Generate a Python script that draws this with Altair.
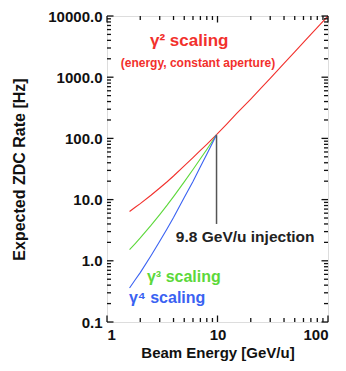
import altair as alt
import pandas as pd

# Beam energy [GeV/u] and expected ZDC rate [Hz]
energy_g2 = [1.6, 1.8, 2, 2.5, 3, 3.5, 4, 5, 6, 7, 8, 9.8, 12, 15, 20, 25, 30, 40, 50, 60, 70, 85, 100]
rate_g2 = [6.4, 7.5, 8.6, 11.8, 15.5, 19.6, 24.3, 35.5, 48.5, 63.5, 80, 115, 168, 258, 440, 675, 960, 1690, 2600, 3700, 5000, 7300, 10000]
energy_g3 = [1.6, 1.8, 2, 2.5, 3, 3.5, 4, 5, 6, 7, 8, 9.8]
rate_g3 = [1.52, 1.91, 2.36, 3.78, 5.67, 8.1, 11.2, 19.5, 31, 46.5, 66, 115]
energy_g4 = [1.6, 1.8, 2, 2.5, 3, 3.5, 4, 5, 6, 7, 8, 9.8]
rate_g4 = [0.36, 0.49, 0.64, 1.21, 2.08, 3.35, 5.1, 10.8, 19.8, 34.3, 55, 115]

series_names = ["g2", "g3", "g4"]
series_colors = ["#f2302c", "#5cd83a", "#3a62f2"]

injection_energy = [9.8]
injection_low = [4.0]
injection_high = [113]

x_major = [1, 10, 100]
x_minor = [2, 3, 4, 5, 6, 7, 8, 9, 20, 30, 40, 50, 60, 70, 80, 90]
y_major = [0.1, 1, 10, 100, 1000, 10000]
y_minor = [m * d for d in [0.1, 1, 10, 100, 1000] for m in [2, 3, 4, 5, 6, 7, 8, 9]]

ann_text = ["γ² scaling", "(energy, constant aperture)", "9.8 GeV/u injection", "γ³ scaling", "γ⁴ scaling"]
ann_x = [2.45, 6.66, 4.2, 2.3, 1.58]
ann_y = [3960, 1690, 2.42, 0.55, 0.243]
ann_color = ["#f2302c", "#f2302c", "#222222", "#5cd83a", "#3a62f2"]
ann_size = [17, 12, 15.5, 16, 16]
ann_align = ["left", "center", "left", "left", "left"]

rows = []
for name, xs, ys in [("g2", energy_g2, rate_g2), ("g3", energy_g3, rate_g3), ("g4", energy_g4, rate_g4)]:
    for a, b in zip(xs, ys):
        rows.append({"E": a, "R": b, "s": name})
df = pd.DataFrame(rows)

W, H = 221, 306
FONT = "Liberation Sans"
X_LO, X_HI, Y_LO, Y_HI = 1, 100, 0.1, 10000
xs_ = alt.Scale(type="log", domain=[X_LO, X_HI], nice=False)
ys_ = alt.Scale(type="log", domain=[Y_LO, Y_HI], nice=False)
TICK_COLOR = "#111111"
MAJOR_PX, MINOR_PX = 6.5, 4
# pixel lengths expressed as multiplicative steps on the log scales
x_step = lambda px: 10 ** (px * 2 / W)
y_step = lambda px: 10 ** (px * 5 / H)

lab = dict(labelFont=FONT, labelFontWeight="bold", labelFontSize=15, labelColor="#111",
           titleFont=FONT, titleFontWeight="bold", titleColor="#111")

lines = alt.Chart(df).mark_line(strokeWidth=1.1).encode(
    x=alt.X("E:Q", scale=xs_, axis=alt.Axis(
        orient="bottom", values=x_major, format="d", ticks=False, labelPadding=5,
        title="Beam Energy [GeV/u]", titleFontSize=15, titlePadding=3, domain=False,
        grid=False, **lab)),
    y=alt.Y("R:Q", scale=ys_, axis=alt.Axis(
        orient="left", values=y_major, format=".1f", ticks=False, labelPadding=5,
        title="Expected ZDC Rate [Hz]", titleFontSize=16, titlePadding=20, domain=False,
        grid=False, **lab)),
    color=alt.Color("s:N", scale=alt.Scale(domain=series_names, range=series_colors), legend=None),
    detail="s:N",
)

# inward frame ticks drawn as short rules from each frame edge
xt_rows, yt_rows = [], []
for vals, px in [(x_major, MAJOR_PX), (x_minor, MINOR_PX)]:
    for v in vals:
        xt_rows.append({"v": v, "a": Y_LO, "b": Y_LO * y_step(px)})
        xt_rows.append({"v": v, "a": Y_HI / y_step(px), "b": Y_HI})
for vals, px in [(y_major, MAJOR_PX), (y_minor, MINOR_PX)]:
    for v in vals:
        yt_rows.append({"v": v, "a": X_LO, "b": X_LO * x_step(px)})
        yt_rows.append({"v": v, "a": X_HI / x_step(px), "b": X_HI})

xticks = alt.Chart(pd.DataFrame(xt_rows)).mark_rule(color=TICK_COLOR, strokeWidth=1.3).encode(
    x=alt.X("v:Q", scale=xs_, axis=None),
    y=alt.Y("a:Q", scale=ys_, axis=None),
    y2="b:Q",
)
yticks = alt.Chart(pd.DataFrame(yt_rows)).mark_rule(color=TICK_COLOR, strokeWidth=1.3).encode(
    y=alt.Y("v:Q", scale=ys_, axis=None),
    x=alt.X("a:Q", scale=xs_, axis=None),
    x2="b:Q",
)

rule_df = pd.DataFrame({"E": injection_energy, "lo": injection_low, "hi": injection_high})
rule = alt.Chart(rule_df).mark_rule(color="#555555", strokeWidth=1.5).encode(
    x=alt.X("E:Q", scale=xs_, axis=None),
    y=alt.Y("lo:Q", scale=ys_, axis=None),
    y2="hi:Q",
)

ann_df = pd.DataFrame({"t": ann_text, "x": ann_x, "y": ann_y, "c": ann_color,
                       "sz": ann_size, "al": ann_align})
texts = []
for al in ["left", "center"]:
    texts.append(
        alt.Chart(ann_df).transform_filter(alt.datum.al == al).mark_text(
            align=al, baseline="middle", font=FONT, fontWeight="bold").encode(
            x=alt.X("x:Q", scale=xs_, axis=None),
            y=alt.Y("y:Q", scale=ys_, axis=None),
            text="t:N",
            color=alt.Color("c:N", scale=None),
            size=alt.Size("sz:Q", scale=None),
        )
    )

chart = alt.layer(lines, rule, *texts, xticks, yticks).resolve_axis(
    x="independent", y="independent"
).properties(
    width=W, height=H,
    autosize=alt.AutoSizeParams(type="none"),
    padding={"left": 99, "top": 8, "right": 10, "bottom": 41},
).configure_view(stroke="#333333", strokeWidth=1.2).configure(background="white")

chart.save("out.html", embed_options={"renderer": "svg", "actions": False})
